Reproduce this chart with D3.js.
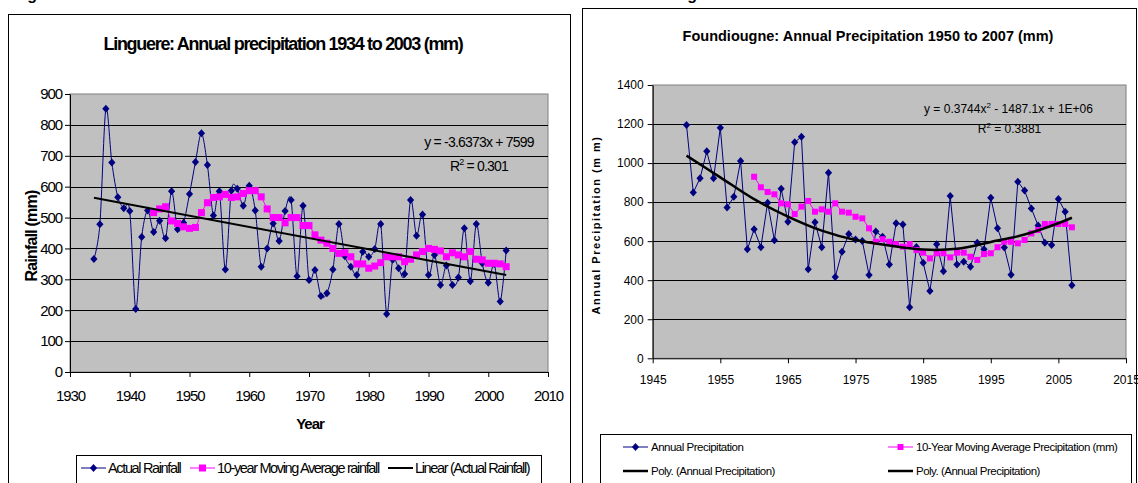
<!DOCTYPE html>
<html>
<head>
<meta charset="utf-8">
<script src="https://cdn.jsdelivr.net/npm/d3@7"></script>
<style>
body { margin: 0; background: #fff; }
svg { display: block; font-family: "Liberation Sans", Arial, sans-serif; }
</style>
</head>
<body>
<svg width="1138" height="483"></svg>
<script>
// ---- Linguere data (1934 - 2003)
var lingStart = 1934;
var lingRain = [366, 478, 852, 678, 566, 530, 521, 204, 437, 523,
    453, 490, 433, 585, 462, 483, 576, 680, 773, 670,
    507, 585, 332, 587, 593, 538, 603, 523, 341, 400,
    481, 424, 521, 557, 310, 538, 298, 330, 246, 255,
    332, 479, 375, 341, 314, 389, 373, 398, 479, 188,
    363, 336, 317, 557, 441, 510, 314, 379, 282, 345,
    282, 306, 465, 294, 479, 352, 289, 350, 228, 393];
var lingAvgStart = 1944;
var lingAvg = [516, 528, 535, 489, 481, 470, 465, 468, 516, 548,
    565, 567, 575, 565, 567, 578, 587, 587, 567, 528,
    500, 500, 483, 500, 500, 474, 474, 444, 427, 417,
    400, 384, 386, 373, 350, 350, 336, 343, 354, 373,
    373, 373, 357, 365, 379, 390, 400, 397, 392, 373,
    386, 379, 373, 390, 365, 363, 352, 352, 350, 341];
var lingTrend = [[1934, 564], [2003, 314]];
var lingXTicks = [1930, 1940, 1950, 1960, 1970, 1980, 1990, 2000, 2010];
var lingYTicks = [0, 100, 200, 300, 400, 500, 600, 700, 800, 900];

// ---- Foundiougne data (1950 - 2007)
var fouStart = 1950;
var fouRain = [1195, 849, 922, 1060, 922, 1181, 772, 827, 1011, 558,
    661, 569, 797, 605, 869, 700, 1107, 1135, 456, 697,
    569, 951, 417, 546, 637, 608, 601, 427, 649, 623,
    480, 692, 686, 261, 570, 490, 345, 584, 446, 831,
    481, 495, 469, 592, 558, 823, 666, 567, 428, 905,
    859, 768, 680, 592, 580, 816, 751, 374];
var fouAvgStart = 1960;
var fouAvg = [930, 876, 852, 840, 794, 789, 739, 777, 806, 751,
    763, 751, 794, 751, 746, 725, 717, 666, 597, 610,
    597, 585, 572, 585, 555, 541, 512, 538, 538, 517,
    541, 541, 520, 504, 534, 538, 569, 597, 597, 589,
    606, 640, 657, 688, 688, 688, 688, 671];
var fouPoly = [[1950, 1038], [1955, 927], [1960, 815], [1965, 726], [1970, 654],
    [1975, 606], [1980, 578], [1985, 557], [1990, 561], [1995, 596],
    [2000, 634], [2005, 692], [2007, 720]];
var fouXTicks = [1945, 1955, 1965, 1975, 1985, 1995, 2005, 2015];
var fouYTicks = [0, 200, 400, 600, 800, 1000, 1200, 1400];

var svg = d3.select("svg");
var NAVY = "#000080", PINK = "#ff00ff", PLOT = "#c0c0c0";
var diamond = "M0,-4L3.6,0L0,4L-3.6,0Z";

function toPoints(start, vals) {
    return vals.map(function (v, i) { return [start + i, v]; });
}

// figure captions, cut off by the top edge in the original
svg.append("text").attr("x", 13).attr("y", 0)
    .attr("font-size", 16).attr("font-weight", "bold").text("Figure 7");
svg.append("text").attr("x", 673).attr("y", 0)
    .attr("font-size", 16).attr("font-weight", "bold").text("Figure 8");

// =========================== LEFT: Linguere
var L = svg.append("g").attr("letter-spacing", "-0.8px");
L.append("rect").attr("x", 8.5).attr("y", 14.5).attr("width", 562).attr("height", 480)
    .attr("fill", "#fff").attr("stroke", "#000");

var x1 = d3.scaleLinear().domain([1930, 2010]).range([70, 548]);
var y1 = d3.scaleLinear().domain([0, 900]).range([372, 94]);

L.append("rect").attr("x", 70).attr("y", 94).attr("width", 478).attr("height", 278)
    .attr("fill", PLOT).attr("stroke", "#808080");

L.selectAll(".grid").data(lingYTicks.slice(1, -1)).enter().append("line")
    .attr("x1", 70).attr("x2", 548)
    .attr("y1", function (d) { return Math.round(y1(d)) + 0.5; })
    .attr("y2", function (d) { return Math.round(y1(d)) + 0.5; })
    .attr("stroke", "#000");

var ax1 = L.append("g").attr("transform", "translate(0,372)")
    .call(d3.axisBottom(x1).tickValues(lingXTicks).tickFormat(d3.format("d"))
        .tickSize(5).tickSizeOuter(0).tickPadding(13));
var ay1 = L.append("g").attr("transform", "translate(70,0)")
    .call(d3.axisLeft(y1).tickValues(lingYTicks).tickFormat(d3.format("d"))
        .tickSize(5).tickSizeOuter(0).tickPadding(3));
[ax1, ay1].forEach(function (a) {
    a.attr("font-family", null).attr("font-size", 15).attr("letter-spacing", "-1.1px");
    a.selectAll("text").attr("fill", "#000");
    a.selectAll("line,path").attr("stroke", "#000");
});

var smooth = d3.line()
    .x(function (d) { return x1(d[0]); })
    .y(function (d) { return y1(d[1]); })
    .curve(d3.curveCardinal.tension(0.1));

var lingPts = toPoints(lingStart, lingRain);
var lingAvgPts = toPoints(lingAvgStart, lingAvg);

L.append("path").datum(lingPts).attr("d", smooth)
    .attr("fill", "none").attr("stroke", NAVY).attr("stroke-width", 1);
L.selectAll(".d1").data(lingPts).enter().append("path")
    .attr("d", diamond).attr("fill", NAVY)
    .attr("transform", function (d) { return "translate(" + x1(d[0]) + "," + y1(d[1]) + ")"; });

L.append("path").datum(lingAvgPts).attr("d", smooth)
    .attr("fill", "none").attr("stroke", PINK).attr("stroke-width", 1);
L.selectAll(".s1").data(lingAvgPts).enter().append("rect")
    .attr("x", function (d) { return x1(d[0]) - 3.5; })
    .attr("y", function (d) { return y1(d[1]) - 3.5; })
    .attr("width", 7).attr("height", 7).attr("fill", PINK);

L.append("path").datum(lingTrend)
    .attr("d", d3.line().x(function (d) { return x1(d[0]); }).y(function (d) { return y1(d[1]); }))
    .attr("stroke", "#000").attr("stroke-width", 2);

L.append("text").attr("x", 283).attr("y", 50).attr("text-anchor", "middle")
    .attr("font-size", 18).attr("font-weight", "bold").attr("letter-spacing", "-1.3px")
    .text("Linguere: Annual precipitation 1934 to 2003 (mm)");
L.append("text").attr("transform", "translate(37,236) rotate(-90)").attr("text-anchor", "middle")
    .attr("font-size", 16).attr("font-weight", "bold").attr("letter-spacing", "-0.8px")
    .text("Rainfall (mm)");
L.append("text").attr("x", 310).attr("y", 429).attr("text-anchor", "middle")
    .attr("font-size", 15).attr("font-weight", "bold").attr("letter-spacing", "-1px").text("Year");

L.append("text").attr("x", 479).attr("y", 146.5).attr("text-anchor", "middle")
    .attr("font-size", 14).text("y = -3.6373x + 7599");
var r1 = L.append("text").attr("x", 479).attr("y", 171).attr("text-anchor", "middle")
    .attr("font-size", 14);
r1.append("tspan").text("R");
r1.append("tspan").attr("font-size", 9).attr("dy", -6).text("2");
r1.append("tspan").attr("dy", 6).text(" = 0.301");

// legend
L.append("rect").attr("x", 76.5).attr("y", 455.5).attr("width", 465).attr("height", 40)
    .attr("fill", "#fff").attr("stroke", "#000");
var leg1 = [
    { x: 81, label: "Actual Rainfall", kind: "diamond" },
    { x: 190, label: "10-year Moving Average rainfall", kind: "square" },
    { x: 388, label: "Linear (Actual Rainfall)", kind: "line" }
];
leg1.forEach(function (it) {
    var c = it.kind === "diamond" ? NAVY : it.kind === "square" ? PINK : "#000";
    L.append("line").attr("x1", it.x).attr("x2", it.x + 25).attr("y1", 468).attr("y2", 468)
        .attr("stroke", c).attr("stroke-width", it.kind === "line" ? 2 : 1);
    if (it.kind === "diamond") {
        L.append("path").attr("d", diamond).attr("fill", NAVY)
            .attr("transform", "translate(" + (it.x + 12.5) + ",468)");
    } else if (it.kind === "square") {
        L.append("rect").attr("x", it.x + 9).attr("y", 464.5).attr("width", 7).attr("height", 7).attr("fill", PINK);
    }
    L.append("text").attr("x", it.x + 27).attr("y", 473).attr("font-size", 14.5)
        .attr("letter-spacing", "-1.35px").text(it.label);
});

// =========================== RIGHT: Foundiougne
var R = svg.append("g");
R.append("rect").attr("x", 582.5).attr("y", 8.5).attr("width", 554).attr("height", 490)
    .attr("fill", "#fff").attr("stroke", "#000");

var x2 = d3.scaleLinear().domain([1945, 2015]).range([652.7, 1126]);
var y2 = d3.scaleLinear().domain([0, 1400]).range([358.3, 85]);

R.append("rect").attr("x", 652.7).attr("y", 85).attr("width", 473.3).attr("height", 273.3)
    .attr("fill", PLOT).attr("stroke", "#808080");

R.selectAll(".grid").data(fouYTicks.slice(1, -1)).enter().append("line")
    .attr("x1", 652.7).attr("x2", 1126)
    .attr("y1", function (d) { return Math.round(y2(d)) + 0.5; })
    .attr("y2", function (d) { return Math.round(y2(d)) + 0.5; })
    .attr("stroke", "#000");

var ax2 = R.append("g").attr("transform", "translate(0,358.3)")
    .call(d3.axisBottom(x2).tickValues(fouXTicks).tickFormat(d3.format("d"))
        .tickSize(5).tickSizeOuter(0).tickPadding(12));
var ay2 = R.append("g").attr("transform", "translate(652.7,0)")
    .call(d3.axisLeft(y2).tickValues(fouYTicks).tickFormat(d3.format("d"))
        .tickSize(5).tickSizeOuter(0).tickPadding(4));
[ax2, ay2].forEach(function (a) {
    a.attr("font-family", null).attr("font-size", 12);
    a.selectAll("text").attr("fill", "#000");
    a.selectAll("line,path").attr("stroke", "#000");
});

var straight = d3.line()
    .x(function (d) { return x2(d[0]); })
    .y(function (d) { return y2(d[1]); });

var fouPts = toPoints(fouStart, fouRain);
var fouAvgPts = toPoints(fouAvgStart, fouAvg);

R.append("path").datum(fouPts).attr("d", straight)
    .attr("fill", "none").attr("stroke", NAVY).attr("stroke-width", 1);
R.selectAll(".d2").data(fouPts).enter().append("path")
    .attr("d", diamond).attr("fill", NAVY)
    .attr("transform", function (d) { return "translate(" + x2(d[0]) + "," + y2(d[1]) + ")"; });

R.append("path").datum(fouAvgPts).attr("d", straight)
    .attr("fill", "none").attr("stroke", PINK).attr("stroke-width", 1);
R.selectAll(".s2").data(fouAvgPts).enter().append("rect")
    .attr("x", function (d) { return x2(d[0]) - 3; })
    .attr("y", function (d) { return y2(d[1]) - 3; })
    .attr("width", 6).attr("height", 6).attr("fill", PINK);

R.append("path").datum(fouPoly).attr("d", straight.curve(d3.curveCatmullRom))
    .attr("fill", "none").attr("stroke", "#000").attr("stroke-width", 2.5);

R.append("text").attr("x", 868).attr("y", 41).attr("text-anchor", "middle")
    .attr("font-size", 14.5).attr("font-weight", "bold")
    .text("Foundiougne: Annual Precipitation 1950 to 2007 (mm)");
R.append("text").attr("transform", "translate(600,225) rotate(-90)").attr("text-anchor", "middle")
    .attr("font-size", 11).attr("font-weight", "bold").attr("letter-spacing", "1.5px")
    .text("Annual Precipitation (m m)");

var eq2 = R.append("text").attr("x", 1008.5).attr("y", 112.5).attr("text-anchor", "middle")
    .attr("font-size", 12);
eq2.append("tspan").text("y = 0.3744x");
eq2.append("tspan").attr("font-size", 8).attr("dy", -5).text("2");
eq2.append("tspan").attr("dy", 5).text(" - 1487.1x + 1E+06");
var r2 = R.append("text").attr("x", 1009.5).attr("y", 133).attr("text-anchor", "middle")
    .attr("font-size", 12);
r2.append("tspan").text("R");
r2.append("tspan").attr("font-size", 8).attr("dy", -5).text("2");
r2.append("tspan").attr("dy", 5).text(" = 0.3881");

// legend
R.append("rect").attr("x", 600.5).attr("y", 434.5).attr("width", 531).attr("height", 60)
    .attr("fill", "#fff").attr("stroke", "#000");
var leg2 = [
    { x: 623, y: 447, label: "Annual Precipitation", kind: "diamond" },
    { x: 888, y: 447, label: "10-Year Moving Average Precipitation (mm)", kind: "square" },
    { x: 623, y: 471, label: "Poly. (Annual Precipitation)", kind: "line" },
    { x: 888, y: 471, label: "Poly. (Annual Precipitation)", kind: "line" }
];
leg2.forEach(function (it) {
    var c = it.kind === "diamond" ? NAVY : it.kind === "square" ? PINK : "#000";
    R.append("line").attr("x1", it.x).attr("x2", it.x + 25).attr("y1", it.y).attr("y2", it.y)
        .attr("stroke", c).attr("stroke-width", it.kind === "line" ? 2.5 : 1);
    if (it.kind === "diamond") {
        R.append("path").attr("d", diamond).attr("fill", NAVY)
            .attr("transform", "translate(" + (it.x + 12.5) + "," + it.y + ")");
    } else if (it.kind === "square") {
        R.append("rect").attr("x", it.x + 9.5).attr("y", it.y - 3).attr("width", 6).attr("height", 6).attr("fill", PINK);
    }
    R.append("text").attr("x", it.x + 28).attr("y", it.y + 4).attr("font-size", 11.5)
        .attr("letter-spacing", "-0.5px").text(it.label);
});
</script>
</body>
</html>
